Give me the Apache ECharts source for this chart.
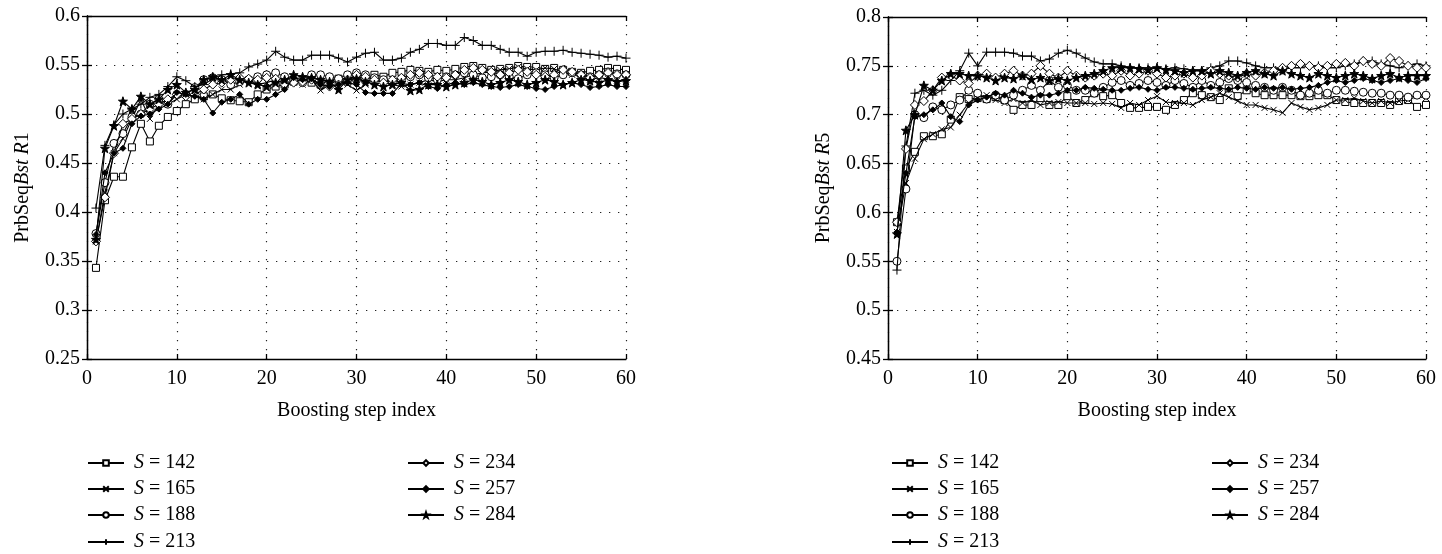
<!DOCTYPE html>
<html><head><meta charset="utf-8">
<script src="https://cdn.jsdelivr.net/npm/echarts@6/dist/echarts.min.js"></script>
<style>html,body{margin:0;padding:0;background:#fff}#c{width:1442px;height:554px}</style>
</head><body><div id="c"></div><script>
const steps = [1,2,3,4,5,6,7,8,9,10,11,12,13,14,15,16,17,18,19,20,21,22,23,24,25,26,27,28,29,30,31,32,33,34,35,36,37,38,39,40,41,42,43,44,45,46,47,48,49,50,51,52,53,54,55,56,57,58,59,60];
const names = ['S = 142','S = 165','S = 188','S = 213','S = 234','S = 257','S = 284'];
const xTicks = [0,10,20,30,40,50,60];

// Left chart: PrbSeqBst R1
const r1_142 = [0.343,0.412,0.436,0.436,0.466,0.49,0.472,0.488,0.497,0.503,0.51,0.515,0.518,0.52,0.516,0.514,0.513,0.512,0.52,0.525,0.528,0.53,0.533,0.535,0.532,0.53,0.535,0.536,0.533,0.536,0.535,0.54,0.538,0.542,0.543,0.545,0.544,0.543,0.545,0.544,0.546,0.548,0.549,0.547,0.545,0.546,0.547,0.549,0.548,0.548,0.546,0.547,0.545,0.543,0.542,0.544,0.545,0.547,0.546,0.545];
const r1_165 = [0.37,0.42,0.46,0.475,0.495,0.515,0.495,0.51,0.51,0.515,0.52,0.52,0.515,0.52,0.525,0.525,0.53,0.535,0.53,0.532,0.535,0.537,0.535,0.53,0.535,0.524,0.53,0.535,0.53,0.524,0.53,0.535,0.532,0.53,0.528,0.53,0.532,0.535,0.533,0.535,0.535,0.537,0.54,0.542,0.543,0.545,0.546,0.548,0.546,0.545,0.547,0.546,0.543,0.54,0.538,0.535,0.537,0.536,0.534,0.535];
const r1_188 = [0.378,0.43,0.47,0.48,0.497,0.5,0.51,0.515,0.51,0.52,0.52,0.527,0.535,0.537,0.535,0.53,0.533,0.535,0.538,0.54,0.542,0.538,0.535,0.532,0.54,0.54,0.538,0.536,0.54,0.542,0.54,0.537,0.535,0.533,0.535,0.538,0.54,0.537,0.535,0.538,0.54,0.542,0.54,0.537,0.538,0.54,0.538,0.536,0.54,0.542,0.54,0.537,0.54,0.542,0.54,0.538,0.54,0.543,0.541,0.54];
const r1_213 = [0.404,0.468,0.489,0.5,0.505,0.51,0.517,0.52,0.528,0.538,0.534,0.528,0.53,0.536,0.54,0.541,0.542,0.548,0.551,0.555,0.564,0.558,0.555,0.555,0.56,0.56,0.56,0.557,0.553,0.558,0.562,0.563,0.555,0.555,0.557,0.563,0.566,0.572,0.572,0.57,0.57,0.578,0.575,0.57,0.57,0.566,0.563,0.563,0.559,0.563,0.564,0.564,0.565,0.563,0.562,0.561,0.56,0.558,0.559,0.557];
const r1_234 = [0.37,0.415,0.46,0.49,0.495,0.5,0.505,0.51,0.515,0.52,0.518,0.52,0.525,0.53,0.532,0.535,0.537,0.536,0.535,0.537,0.536,0.53,0.532,0.533,0.535,0.53,0.528,0.53,0.535,0.54,0.538,0.535,0.532,0.535,0.537,0.54,0.542,0.54,0.538,0.537,0.54,0.545,0.547,0.545,0.543,0.54,0.542,0.545,0.543,0.54,0.538,0.54,0.545,0.543,0.54,0.537,0.54,0.542,0.54,0.54];
const r1_257 = [0.377,0.44,0.46,0.465,0.49,0.498,0.5,0.505,0.51,0.522,0.52,0.518,0.515,0.501,0.512,0.515,0.52,0.51,0.515,0.515,0.52,0.525,0.537,0.535,0.536,0.53,0.528,0.53,0.532,0.53,0.522,0.521,0.521,0.521,0.531,0.53,0.532,0.528,0.526,0.53,0.532,0.53,0.532,0.53,0.528,0.527,0.528,0.53,0.528,0.526,0.525,0.528,0.53,0.532,0.53,0.527,0.528,0.53,0.528,0.528];
const r1_284 = [0.372,0.465,0.488,0.513,0.505,0.518,0.51,0.515,0.525,0.53,0.522,0.525,0.535,0.538,0.535,0.54,0.535,0.532,0.53,0.528,0.532,0.535,0.54,0.538,0.537,0.535,0.533,0.525,0.535,0.536,0.533,0.53,0.528,0.53,0.532,0.524,0.525,0.53,0.53,0.528,0.53,0.532,0.535,0.533,0.53,0.532,0.535,0.533,0.53,0.532,0.535,0.533,0.53,0.532,0.535,0.534,0.532,0.535,0.533,0.534];

// Right chart: PrbSeqBst R5
const r5_142 = [0.59,0.645,0.662,0.678,0.678,0.68,0.695,0.718,0.716,0.717,0.716,0.718,0.715,0.705,0.71,0.71,0.717,0.71,0.71,0.719,0.712,0.715,0.722,0.719,0.72,0.712,0.707,0.707,0.708,0.708,0.705,0.71,0.715,0.722,0.72,0.718,0.715,0.727,0.719,0.725,0.722,0.72,0.72,0.72,0.72,0.719,0.719,0.72,0.72,0.715,0.713,0.712,0.712,0.712,0.712,0.71,0.714,0.715,0.708,0.71];
const r5_165 = [0.58,0.63,0.655,0.675,0.68,0.685,0.687,0.7,0.712,0.718,0.72,0.715,0.712,0.716,0.712,0.715,0.71,0.712,0.713,0.712,0.712,0.712,0.711,0.712,0.711,0.707,0.712,0.71,0.715,0.719,0.713,0.712,0.712,0.71,0.715,0.718,0.722,0.718,0.714,0.71,0.71,0.707,0.705,0.702,0.712,0.708,0.705,0.707,0.71,0.715,0.715,0.717,0.714,0.712,0.714,0.712,0.714,0.715,0.719,0.717];
const r5_188 = [0.55,0.624,0.7,0.697,0.708,0.705,0.71,0.715,0.725,0.722,0.716,0.72,0.715,0.72,0.725,0.73,0.725,0.735,0.728,0.73,0.725,0.725,0.722,0.728,0.733,0.735,0.73,0.732,0.735,0.733,0.73,0.735,0.732,0.728,0.735,0.73,0.733,0.737,0.735,0.733,0.73,0.728,0.725,0.728,0.725,0.72,0.722,0.725,0.722,0.725,0.725,0.724,0.723,0.722,0.722,0.72,0.72,0.718,0.72,0.72];
const r5_213 = [0.541,0.668,0.722,0.725,0.72,0.725,0.735,0.745,0.763,0.75,0.764,0.764,0.764,0.763,0.76,0.76,0.755,0.757,0.763,0.766,0.763,0.758,0.754,0.752,0.752,0.75,0.748,0.748,0.748,0.748,0.747,0.748,0.747,0.745,0.745,0.748,0.75,0.755,0.755,0.753,0.75,0.748,0.748,0.746,0.748,0.748,0.75,0.75,0.748,0.748,0.75,0.752,0.755,0.755,0.752,0.75,0.748,0.75,0.752,0.75];
const r5_234 = [0.59,0.665,0.71,0.714,0.725,0.738,0.74,0.735,0.732,0.74,0.742,0.738,0.742,0.745,0.74,0.742,0.75,0.742,0.738,0.745,0.74,0.738,0.74,0.742,0.74,0.745,0.74,0.742,0.745,0.742,0.738,0.74,0.742,0.738,0.74,0.745,0.742,0.74,0.738,0.742,0.74,0.743,0.745,0.748,0.75,0.752,0.75,0.748,0.75,0.752,0.753,0.75,0.755,0.752,0.75,0.758,0.755,0.75,0.748,0.748];
const r5_257 = [0.58,0.64,0.698,0.7,0.705,0.712,0.698,0.693,0.71,0.715,0.718,0.722,0.72,0.725,0.722,0.718,0.72,0.72,0.722,0.725,0.725,0.728,0.727,0.726,0.725,0.725,0.727,0.728,0.726,0.725,0.728,0.728,0.727,0.726,0.727,0.728,0.727,0.726,0.728,0.727,0.726,0.728,0.727,0.728,0.726,0.727,0.728,0.73,0.733,0.735,0.733,0.735,0.737,0.735,0.733,0.735,0.737,0.735,0.733,0.737];
const r5_284 = [0.578,0.684,0.7,0.73,0.725,0.735,0.742,0.742,0.74,0.74,0.738,0.735,0.738,0.737,0.74,0.736,0.738,0.735,0.737,0.735,0.738,0.74,0.742,0.745,0.748,0.748,0.748,0.747,0.746,0.748,0.746,0.745,0.743,0.745,0.745,0.742,0.745,0.743,0.74,0.743,0.745,0.742,0.74,0.745,0.742,0.74,0.738,0.742,0.74,0.738,0.74,0.742,0.74,0.737,0.74,0.742,0.738,0.74,0.74,0.74];

const leftData = [r1_142,r1_165,r1_188,r1_213,r1_234,r1_257,r1_284];
const rightData = [r5_142,r5_165,r5_188,r5_213,r5_234,r5_257,r5_284];

const FONT = '"Liberation Serif","DejaVu Serif",serif';
const starPath = 'path://M0,-10L2.35,-3.24L9.51,-3.09L3.8,1.24L5.88,8.09L0,4L-5.88,8.09L-3.8,1.24L-9.51,-3.09L-2.35,-3.24Z';
const plusPath = 'path://M-5,0L5,0M0,-5L0,5';
const crossPath = 'path://M-5,-5L5,5M-5,5L5,-5';
const marks = [
  {symbol:'rect', size:7, fill:'#fff'},
  {symbol:crossPath, size:6, fill:'#000'},
  {symbol:'circle', size:8, fill:'#fff'},
  {symbol:plusPath, size:9, fill:'#000'},
  {symbol:'diamond', size:9, fill:'#fff'},
  {symbol:'diamond', size:6, fill:'#000'},
  {symbol:starPath, size:9, fill:'#000'}
];

function mkSeries(data, xi, yi) {
  return data.map((vals, k) => ({
    type:'line', name:names[k], xAxisIndex:xi, yAxisIndex:yi,
    data: steps.map((s,i)=>[s, vals[i]]),
    symbol: marks[k].symbol, symbolSize: marks[k].size, showAllSymbol:true,
    lineStyle:{color:'#000', width:1.1},
    itemStyle:{color:marks[k].fill, borderColor:'#000', borderWidth:1},
    emphasis:{disabled:true}, z: 3 + k
  }));
}

const axisLbl = {color:'#000', fontFamily:FONT, fontSize:20};
function xAxes(gi) {
  return [
    {type:'value', gridIndex:gi, min:0, max:60, interval:10, position:'bottom',
     axisLine:{show:true, lineStyle:{color:'#000', width:1.3}},
     axisTick:{show:true, inside:true, length:5, lineStyle:{color:'#000', width:1.3}},
     axisLabel:{...axisLbl, margin:10},
     splitLine:{show:true, lineStyle:{color:'#222', width:1.2, type:[1.3,7.7]}},
     name:'Boosting step index', nameLocation:'middle', nameGap:42,
     nameTextStyle:{color:'#000', fontFamily:FONT, fontSize:20}},
    {type:'value', gridIndex:gi, min:0, max:60, interval:10, position:'top',
     axisLine:{show:true, lineStyle:{color:'#000', width:1.3}},
     axisTick:{show:true, inside:true, length:5, lineStyle:{color:'#000', width:1.3}},
     axisLabel:{show:false}, splitLine:{show:false}}
  ];
}
function yAxes(gi, min, max, nameSuffix) {
  return [
    {type:'value', gridIndex:gi, min:min, max:max, interval:0.05, position:'left',
     axisLine:{show:true, lineStyle:{color:'#000', width:1.3}},
     axisTick:{show:true, inside:true, length:5, lineStyle:{color:'#000', width:1.3}},
     axisLabel:{...axisLbl, margin:7, formatter:v=>String(+v.toFixed(2))},
     splitLine:{show:true, lineStyle:{color:'#222', width:1.2, type:[1.3,7.7]}},
     name:'{a|PrbSeq}{b|Bst R}{a|' + nameSuffix + '}', nameLocation:'middle', nameGap:54,
     nameTextStyle:{color:'#000', fontFamily:FONT, fontSize:20,
       rich:{a:{color:'#000', fontFamily:FONT, fontSize:20},
             b:{color:'#000', fontFamily:FONT, fontSize:20, fontStyle:'italic'}}}},
    {type:'value', gridIndex:gi, min:min, max:max, interval:0.05, position:'right',
     axisLine:{show:true, lineStyle:{color:'#000', width:1.3}},
     axisTick:{show:true, inside:true, length:5, lineStyle:{color:'#000', width:1.3}},
     axisLabel:{show:false}, splitLine:{show:false}}
  ];
}

// one legend entry per component: row centres at 461, 487, 513, 540
const rowTops = [452, 478, 504, 531];
function legend(left, row, name) {
  return {
    left:left, top:rowTops[row], orient:'vertical', data:[name], padding:0,
    itemWidth:36, itemHeight:7,
    selectedMode:false,
    formatter: n => n.replace('S', '{i|S}'),
    textStyle:{color:'#000', fontFamily:FONT, fontSize:20, lineHeight:22,
      rich:{i:{color:'#000', fontFamily:FONT, fontSize:20, lineHeight:22, fontStyle:'italic', padding:[0,0,0,5]}}}
  };
}
const legends = [];
[[87, 407], [891, 1211]].forEach(([c1, c2]) => {
  names.slice(0,4).forEach((n, r) => legends.push(legend(c1, r, n)));
  names.slice(4).forEach((n, r) => legends.push(legend(c2, r, n)));
});

const option = {
  animation:false,
  backgroundColor:'#fff',
  grid:[
    {left:87, right:1442-626, top:16, bottom:554-359},
    {left:888, right:1442-1426, top:17, bottom:554-359}
  ],
  xAxis:[...xAxes(0), ...xAxes(1)],
  yAxis:[...yAxes(0, 0.25, 0.6, '1'), ...yAxes(1, 0.45, 0.8, '5')],
  legend:legends,
  series:[...mkSeries(leftData, 0, 0), ...mkSeries(rightData, 2, 2)]
};
echarts.init(document.getElementById('c'), null, {renderer:'canvas'}).setOption(option);
</script></body></html>
